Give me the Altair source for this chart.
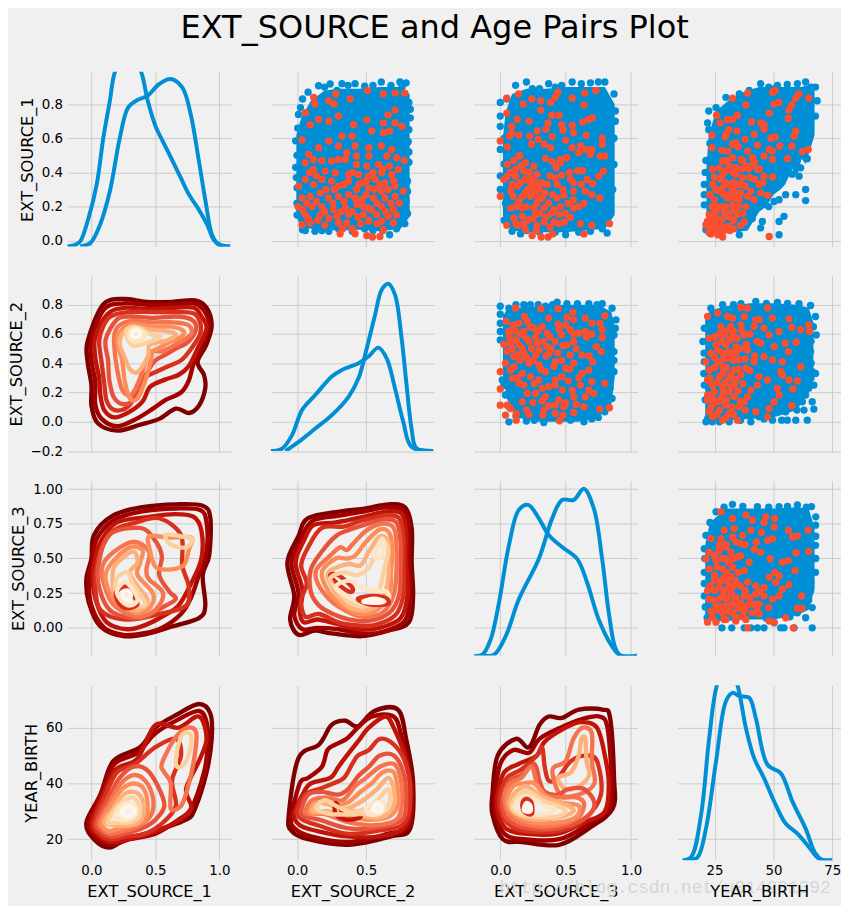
import altair as alt
import pandas as pd

BG = "#f0f0f0"
BLUE = "#008fd5"
RED = "#fc4f30"
GRID = "#cbcbcb"
LEVELS = ['#7f0000', '#a30000', '#c11409', '#d7301f', '#e7533a', '#f5744f',
          '#fc8d59', '#fdb07a', '#fdd0a0', '#fee5c3', '#fff5e8']
NAMES = ["EXT_SOURCE_1", "EXT_SOURCE_2", "EXT_SOURCE_3", "YEAR_BIRTH"]
TITLE = "EXT_SOURCE and Age Pairs Plot"
WATERMARK = "http://blog.csdn.net/u014281392"

X_DOMAINS = [(-0.188, 1.09), (-0.19, 0.993), (-0.2, 1.05), (9.2, 78.7)]
Y_DOMAINS = [(-0.034, 0.99), (-0.2, 0.995), (-0.2, 1.06), (12.5, 75.2)]
X_TICKS = [[0, 0.5, 1], [0, 0.5], [0, 0.5, 1], [25, 50, 75]]
Y_TICKS = [[0, .2, .4, .6, .8], [-.2, 0, .2, .4, .6, .8], [0, .25, .5, .75, 1], [20, 40, 60]]
Y_FORMATS = [".1f", ".1f", ".2f", "d"]
X_FORMATS = [".1f", ".1f", ".1f", "d"]

# ---- density curves on the diagonal (x, height in the row's y units)
KDE_11A = [(-.19,-.033),(-.126,-.024),(-.088,-.004),(-.023,.133),(.041,.33),(.093,.604),(.144,.82),(.183,.988),(.286,1.14),(.389,.988),(.44,.82),(.505,.663),(.557,.584),(.634,.467),(.698,.369),(.763,.27),(.84,.182),(.905,.094),(.956,.006),(1.008,-.024),(1.085,-.033)]
KDE_11B = [(-.088,-.033),(-.01,-.014),(.067,.094),(.144,.29),(.222,.604),(.286,.78),(.35,.82),(.44,.85),(.53,.918),(.62,.947),(.71,.898),(.776,.741),(.84,.467),(.892,.231),(.943,.035),(.995,-.024),(1.085,-.033)]
KDE_22A = [(-.084,-.2),(.012,-.137),(.132,-.046),(.252,.046),(.373,.171),(.445,.297),(.505,.503),(.565,.731),(.613,.903),(.661,.944),(.709,.869),(.757,.571),(.793,.251),(.829,-.046),(.865,-.183),(.986,-.2)]
KDE_22B = [(-.19,-.2),(-.108,-.183),(-.036,-.091),(.036,.08),(.132,.183),(.252,.309),(.325,.354),(.445,.4),(.517,.446),(.589,.507),(.649,.434),(.709,.229),(.769,0),(.829,-.171),(.986,-.2)]
KDE_33A = [(-.2,-.2),(-.137,-.194),(-.074,-.085),(-.01,.182),(.066,.594),(.142,.85),(.214,.886),(.295,.789),(.372,.667),(.473,.582),(.588,.497),(.664,.327),(.753,.061),(.855,-.133),(.919,-.2),(1.046,-.2)]
KDE_33B = [(-.125,-.2),(-.048,-.194),(.041,-.061),(.142,.206),(.295,.498),(.397,.789),(.473,.922),(.562,.922),(.639,1.002),(.715,.862),(.779,.498),(.83,.109),(.88,-.146),(.919,-.2),(1.046,-.2)]
KDE_44A = [(11.4,12.5),(15,13.6),(19.2,28.6),(22.7,56.3),(26,75.3),(30.5,84),(34.7,75.3),(38.3,59.9),(41.8,49.1),(46,41.9),(51,32.3),(55.2,25.6),(60.2,22),(65.1,17.2),(69.4,13),(75,12.5)]
KDE_44B = [(14.3,12.5),(17.8,13.6),(21.3,23.8),(25.6,47.9),(29.8,69.5),(32.6,72.5),(35.5,71.3),(39.7,70.7),(42.5,63.5),(47.5,46.7),(53.1,43.7),(58.1,33.5),(63.7,23.8),(67.9,14.8),(70.8,12.5),(75,12.5)]

# ---- dense blue regions of the scatters: x, top, bottom
CORE_12 = [(-.005,.62,.14),(.03,.72,.08),(.10,.82,.07),(.20,.88,.065),(.30,.89,.06),(.45,.89,.065),(.60,.90,.055),(.75,.90,.07),(.815,.86,.14)]
CORE_13 = [(.02,.6,.15),(.04,.75,.1),(.09,.86,.06),(.2,.89,.05),(.35,.89,.05),(.5,.9,.05),(.65,.9,.06),(.8,.9,.07),(.875,.8,.15)]
CORE_14 = [(21.5,.42,.06),(22.5,.62,.06),(25.6,.76,.05),(32.6,.84,.05),(39,.88,.06),(44,.9,.17),(47,.9,.2),(50,.91,.27),(53,.9,.3),(55,.9,.33),(58,.9,.42),(60,.9,.38),(62,.9,.48),(63.7,.91,.45),(66,.9,.55),(67.5,.88,.62)]
CORE_23 = [(.02,.72,.32),(.05,.77,.16),(.12,.78,.03),(.3,.79,.0),(.45,.8,.0),(.6,.8,.0),(.75,.8,.03),(.85,.75,.12),(.875,.65,.3)]
CORE_24 = [(21,.7,.03),(23,.76,.01),(30,.79,.01),(40,.81,.02),(50,.81,.03),(60,.8,.08),(65,.78,.2),(67,.68,.3)]
CORE_34 = [(21,.6,.08),(23,.76,.05),(30,.86,.05),(40,.86,.06),(50,.86,.06),(60,.87,.09),(65,.86,.13),(67.5,.72,.28)]

# ---- individually visible blue points
BLUE_12 = [(.04,.83),(.08,.87),(.156,.908),(.24,.918),(.325,.92),(.42,.92),(.49,.905),(.61,.93),(.745,.93),(.79,.925),(.81,.81),(.82,.72),(.805,.58),(.81,.46),(.80,.35),(.79,.23),(.78,.10),(.67,.035),(.49,.07),(.40,.055),(.23,.055),(.13,.055),(.04,.065),(0,.15),(0,.31),(-.01,.43),(-.01,.585),(.01,.74),(.025,.78),(.0,.22),(-.005,.37),(.0,.5),(.005,.66),(.06,.06),(.18,.06),(.3,.07),(.55,.06),(.62,.06),(.72,.07),(.8,.16),(.8,.29),(.81,.52),(.81,.65),(.82,.77),(.2,.9),(.29,.88),(.37,.91),(.55,.91),(.68,.91),(.76,.9)]
BLUE_13 = [(0,.81),(0,.73),(0,.67),(0,.535),(0,.38),(0,.30),(.04,.22),(.03,.12),(.09,.055),(.155,.04),(.5,.035),(.69,.055),(.817,.045),(.83,.15),(.84,.18),(.87,.447),(.88,.76),(.87,.86),(.80,.93),(.75,.93),(.69,.925),(.55,.93),(.47,.91),(.37,.92),(.245,.89),(.2,.93),(.117,.91),(.05,.83),(.03,.6),(.03,.45),(.86,.3),(.87,.6),(.88,.7),(.84,.24),(.62,.92),(.3,.89),(.42,.9),(.78,.07),(.6,.05),(.3,.05),(.2,.06),(.42,.05)]
BLUE_14 = [(22.5,.76),(22,.69),(22.5,.65),(25.6,.78),(29.8,.84),(35.5,.86),(39.7,.88),(44.6,.92),(51.7,.91),(55.9,.915),(60.2,.92),(63.7,.93),(67.9,.9),(68.6,.82),(67.9,.73),(65.8,.66),(64.8,.6),(63.7,.54),(64.4,.48),(61.6,.427),(21.3,.47),(20.6,.33),(20.6,.21),(21.3,.065),(29.1,.065),(35.5,.035),(44.6,.075),(60.2,.427),(60.9,.378),(63.7,.30),(63.7,.235),(59.5,.27),(55.2,.27),(52.4,.24),(50.3,.23),(45.3,.113),(54.5,.143),(52.4,.113),(52.4,.035),(20.6,.27),(21,.4),(23,.57),(42,.3),(47,.27),(41,.13),(38,.08),(48,.2),(58,.39),(66,.9),(48,.9)]
BLUE_23 = [(0,.79),(0,.735),(0,.674),(0,.617),(0,.56),(.066,.777),(.12,.80),(.23,.80),(.346,.79),(.435,.818),(.51,.807),(.59,.807),(.677,.807),(.78,.807),(.855,.777),(.885,.697),(.87,.594),(.87,.48),(.87,.343),(.84,.23),(.855,.16),(.80,.069),(.64,0),(.537,.011),(.333,-.005),(.2,.005),(.066,0),(.04,.183),(.028,.25),(.015,.286),(.18,.8),(.29,.8),(.4,.8),(.74,.8),(.88,.64),(.87,.42),(.75,.03),(.7,.02),(.45,.01),(.26,.01),(.12,.04),(.07,.1)]
BLUE_24 = [(20.6,.64),(20,.549),(20.6,.411),(20.6,.251),(21.3,0),(23.4,.777),(28.4,.8),(36.2,.807),(42.5,.823),(51.7,.816),(60.9,.807),(65.8,.795),(67.9,.72),(68.2,.594),(65.8,.48),(66.5,.343),(67.9,.331),(67.2,.251),(67.2,.087),(66.5,.137),(64.4,.011),(63,.08),(59.5,.011),(55.9,.011),(53.5,.011),(55.2,.069),(49.6,.011),(43.9,.034),(40.4,0),(31.2,0),(27,0),(63.7,.183),(62.3,.137),(20.4,.33),(20.5,.47),(21,.15),(22,.02),(47,.81),(56,.81),(33,.8),(67,.65),(66,.55),(66,.4),(66,.3),(65,.23),(60,.08),(24,0),(36,.01),(46,.02)]
BLUE_34 = [(21.3,.667),(20.6,.57),(20.6,.40),(20.6,.23),(21.8,.073),(25.6,.837),(32.6,.89),(43.2,.874),(52.4,.874),(60.2,.886),(66.2,.874),(67.9,.74),(67.9,.595),(67.9,.40),(65.8,.267),(66.5,.146),(63.7,.073),(60.2,.109),(66.5,0),(58.8,0),(54.5,0),(53.1,0),(46,0),(43.2,0),(40.4,0),(37.6,0),(32.3,0),(28.1,0),(50.3,.036),(20.8,.5),(20.6,.32),(21,.15),(23,.76),(29,.87),(37,.875),(48,.87),(56,.875),(64,.87),(68,.8),(68,.66),(68,.5),(66,.33),(65,.2),(57,.08),(47,.07)]

# ---- orange-red points
RED_12 = [(.12,.84),(.13,.80),(.23,.82),(.28,.86),(.27,.80),(.385,.83),(.51,.88),(.625,.86),(.71,.865),(.78,.865),(.71,.765),(.66,.737),(.505,.708),(.41,.68),(.30,.73),(.23,.70),(.156,.71),(.06,.75),(.096,.68),(.625,.69),(.71,.69),(.76,.67),(.54,.643),(.625,.633),(.67,.643),(.325,.613),(.40,.613),(.036,.59),(.23,.584),(.30,.555),(.42,.555),(.52,.545),(.61,.555),(.685,.535),(.156,.545),(.084,.506),(.36,.516),(.43,.496),(.52,.496),(.65,.496),(.72,.486),(.776,.47),(.06,.457),(.12,.476),(.18,.47),(.25,.467),(.30,.476),(.35,.476),(.43,.447),(.505,.437),(.59,.447),(.67,.437),(.12,.418),(.204,.408),(.276,.398),(.373,.388),(.445,.388),(.517,.378),(.613,.398),(.685,.388),(.733,.418),(.06,.359),(.18,.359),(.25,.349),(.373,.349),(.47,.339),(.565,.359),(.637,.339),(.71,.32),(.012,.32),(.12,.329),(.30,.32),(.43,.30),(.517,.31),(.613,.29),(.77,.29),(.036,.251),(.096,.26),(.168,.28),(.228,.251),(.30,.26),(.373,.27),(.47,.24),(.553,.25),(.637,.25),(.71,.26),(.007,.2),(.108,.2),(.18,.2),(.264,.182),(.35,.192),(.433,.212),(.517,.192),(.613,.2),(.697,.182),(.06,.153),(.168,.149),(.288,.143),(.373,.153),(.48,.153),(.577,.153),(.66,.143),(.036,.094),(.096,.104),(.30,.104),(.36,.104),(.517,.114),(.613,.114),(.697,.104),(.312,.041),(.42,.041),(.505,.03),(.546,.022),(.60,.025),(.625,.065),
 (.07,.22),(.14,.23),(.2,.17),(.23,.13),(.26,.22),(.32,.17),(.34,.23),(.4,.17),(.42,.25),(.44,.14),(.48,.2),(.5,.27),(.52,.12),(.54,.18),(.56,.3),(.58,.22),(.6,.33),(.64,.17),(.66,.3),(.68,.22),(.72,.15),(.74,.22),(.58,.1),(.46,.1),(.4,.07),(.33,.07),(.2,.09),(.15,.12),(.08,.13),(.04,.18),(.5,.35),(.55,.4),(.62,.42),(.7,.35),(.45,.33),(.4,.4),(.34,.33),(.27,.3),(.21,.3),(.14,.38),(.09,.4)]
RED_13 = [(.05,.835),(.14,.86),(.175,.80),(.24,.83),(.31,.82),(.385,.81),(.42,.84),(.44,.87),(.55,.835),(.645,.865),(.73,.88),(.64,.795),(.05,.747),(.13,.71),(.31,.765),(.395,.735),(.45,.735),(.087,.67),(.22,.70),(.365,.69),(.47,.68),(.55,.675),(.63,.695),(.675,.71),(.705,.72),(.087,.63),(.143,.62),(.225,.613),(.283,.643),(.35,.653),(.48,.647),(.56,.633),(.656,.618),(0,.584),(.07,.613),(.29,.594),(.398,.61),(.5,.588),(.78,.6),(.054,.55),(.24,.565),(.335,.565),(.385,.545),(.55,.545),(.613,.555),(.65,.535),(.70,.535),(.78,.565),(.766,.496),(.80,.496),(.60,.516),(.69,.506),(.346,.482),(.40,.463),(.46,.476),(.51,.486),(.054,.447),(.104,.47),(.143,.496),(.193,.457),(.46,.457),(.117,.418),(.18,.408),(.257,.437),(.427,.427),(.59,.41),(.63,.41),(.79,.408),(.753,.378),(.054,.378),(.117,.378),(.28,.388),(.42,.368),(.47,.384),(.537,.359),(.664,.359),(.028,.359),(.22,.35),(.36,.33),(.435,.33),(.56,.339),(.707,.335),(.13,.32),(.245,.32),(.295,.31),(.08,.29),(.193,.28),(.27,.27),(.435,.25),(.487,.267),(.56,.29),(.65,.29),(.70,.27),(0,.26),(.143,.23),(.295,.24),(.56,.24),(.76,.25),(.08,.192),(.168,.192),(.257,.192),(.335,.192),(.41,.182),(.56,.192),(.64,.218),(.45,.153),(.27,.153),(.537,.137),(.168,.143),(.104,.133),(.22,.123),(.335,.11),(.41,.11),(.613,.10),(.70,.09),(.835,.10),(.05,.09),(.137,.09),(.193,.065),(.277,.06),(.244,.03),(.313,.022),(.366,.022),(.40,.04),(.64,.04),(.453,.10),
 (.08,.4),(.09,.33),(.1,.26),(.12,.2),(.15,.34),(.16,.44),(.17,.26),(.19,.36),(.2,.2),(.21,.3),(.22,.4),(.23,.26),(.24,.36),(.25,.13),(.26,.3),(.27,.34),(.28,.22),(.3,.16),(.3,.3),(.32,.34),(.32,.25),(.34,.28),(.35,.14),(.37,.22),(.38,.38),(.39,.16),(.4,.27),(.46,.2),(.48,.3),(.5,.16),(.52,.22),(.53,.4),(.6,.2),(.62,.33),(.12,.1),(.18,.1),(.28,.09),(.38,.08),(.49,.11),(.15,.5)]
RED_14 = [(32.6,.835),(39,.865),(49.6,.87),(50.7,.88),(60.9,.86),(59.5,.835),(65,.835),(50.3,.80),(52.4,.81),(38.3,.795),(57.8,.795),(56.6,.765),(48.2,.747),(25.8,.735),(34.7,.735),(30.5,.71),(32.6,.71),(27.3,.69),(56.3,.716),(40.7,.696),(44.6,.69),(46,.68),(31,.65),(34.5,.643),(29.8,.623),(41.8,.623),(46,.653),(59.5,.643),(23.9,.618),(29.5,.608),(37.9,.594),(48.9,.6),(50.7,.608),(58.8,.613),(62.3,.522),(64.8,.535),(23.9,.545),(32.6,.565),(34,.575),(43.2,.56),(48.2,.535),(52.7,.555),(57.8,.555),(30.5,.525),(39,.525),(49.6,.525),(28.4,.467),(32.6,.486),(36.2,.476),(41.1,.486),(46,.496),(49.6,.476),(56,.482),(27,.427),(31.2,.437),(38.3,.437),(43.2,.418),(24.9,.373),(28.4,.388),(34,.388),(46,.378),(49.6,.373),(24.2,.33),(29.8,.339),(36.2,.33),(43.9,.33),(27,.29),(32.6,.3),(40.4,.29),(44.6,.28),(47.5,.267),(24.9,.24),(30.5,.25),(35.5,.24),(41.8,.24),(28,.2),(32.6,.21),(38.3,.2),(22.7,.153),(25.6,.173),(31.2,.163),(34.7,.153),(22,.114),(24.9,.104),(28.1,.123),(31.2,.084),(37.6,.11),(23.4,.04),(26.3,.035),(28.4,.022),(31.5,.06),(48.2,.025),(21.3,.094),(24.2,.075),(29.1,.163),(31.2,.27),(28.4,.31),(34.7,.28),(36.9,.37),
 (24,.42),(25.5,.3),(26,.2),(26,.13),(27.5,.36),(29,.27),(29.5,.2),(30,.41),(30.2,.33),(31,.14),(33,.4),(33,.34),(33.5,.25),(33.5,.18),(33,.12),(35,.33),(35,.2),(36,.28),(36.5,.42),(37,.16),(38,.32),(39,.26),(39.5,.42),(40,.37),(41,.44),(42,.36),(44,.42),(45.5,.34),(27,.09),(29,.06),(25,.07),(23,.08),(24,.14),(24,.2),(23,.27),(30,.08),(33,.07),(36,.09),(22.5,.05),(27.5,.05),(42,.46),(37,.47),(30,.47),(34,.43),(28,.53),(35,.55)]
RED_23 = [(0,.343),(0,.224),(0,.114),(.053,.114),(.079,.091),(.04,.046),(.122,.011),(.122,.057),(.046,.686),(.117,.777),(.31,.773),(.443,.773),(.555,.75),(.51,.715),(.80,.725),(.186,.72),(.206,.686),(.143,.674),(.37,.709),(.443,.667),(.562,.697),(.65,.709),(.70,.674),(.763,.674),(.066,.617),(.117,.617),(.18,.617),(.257,.64),(.32,.651),(.358,.606),(.47,.594),(.534,.629),(.6,.606),(.65,.617),(.78,.629),(.78,.576),(.028,.53),(.079,.537),(.143,.526),(.22,.549),(.283,.537),(.358,.514),(.42,.549),(.51,.526),(.562,.549),(.733,.514),(.773,.48),(.053,.48),(.104,.446),(.18,.469),(.272,.457),(.374,.469),(.534,.457),(.626,.457),(.04,.4),(.104,.377),(.22,.4),(.295,.389),(.42,.411),(.562,.4),(.707,.411),(.079,.354),(.168,.331),(.346,.343),(.50,.366),(.626,.331),(.677,.354),(.092,.297),(.143,.263),(.232,.309),(.295,.286),(.42,.286),(.47,.309),(.70,.274),(.80,.263),(.613,.251),(.42,.251),(.32,.229),(.206,.194),(.27,.194),(.475,.217),(.55,.217),(.677,.217),(.715,.194),(.346,.171),(.448,.149),(.562,.171),(.65,.171),(.168,.137),(.32,.142),(.42,.114),(.64,.103),(.2,.08),(.333,.08),(.486,.103),(.76,.087),(.835,.096),(.42,.057),(.562,.064),(.48,.046),(.326,.046),(.22,.05),(.453,.007),
 (.07,.58),(.1,.66),(.09,.5),(.12,.56),(.13,.46),(.15,.42),(.16,.6),(.17,.5),(.2,.57),(.2,.44),(.23,.65),(.24,.5),(.25,.42),(.27,.58),(.29,.62),(.3,.49),(.31,.36),(.33,.55),(.35,.45),(.38,.58),(.39,.5),(.41,.38),(.44,.47),(.45,.63),(.47,.42),(.48,.52),(.5,.66),(.53,.36),(.56,.6),(.58,.5),(.6,.3),(.66,.58),(.68,.45),(.7,.6),(.13,.3),(.18,.25),(.26,.26),(.37,.24),(.52,.28),(.58,.12),(.25,.13),(.37,.11),(.5,.13)]
RED_24 = [(22,.72),(26.3,.743),(30.5,.72),(36.2,.782),(39,.777),(47.5,.777),(32.6,.709),(37.6,.72),(42.5,.697),(49.6,.709),(56.6,.704),(27.7,.651),(31.9,.651),(36.2,.663),(41.8,.651),(46,.64),(57.8,.645),(61.6,.629),(65,.663),(65.3,.617),(29.1,.594),(32.6,.583),(37.6,.594),(48.2,.594),(52.4,.617),(22.7,.571),(25.6,.526),(29.8,.526),(34,.514),(44.6,.537),(55,.537),(59.7,.544),(50.3,.514),(23.4,.469),(28.4,.469),(32.6,.469),(39,.491),(56.4,.48),(21.3,.411),(26.3,.411),(31.2,.434),(35.5,.423),(41.8,.411),(46,.446),(22.7,.354),(28.4,.377),(33.3,.354),(38.3,.366),(49.6,.423),(53.8,.411),(61.6,.377),(22,.286),(27,.309),(31.2,.297),(36.2,.32),(43.9,.309),(53.1,.343),(53.8,.32),(56.6,.286),(60.2,.279),(22,.183),(28.4,.24),(33.3,.251),(40.4,.217),(43.2,.251),(47.5,.286),(24.9,.206),(31.2,.206),(51.7,.229),(58.3,.224),(52.4,.183),(22,.149),(27.7,.16),(33.3,.171),(37.6,.137),(48.2,.091),(50.3,.137),(57.8,.11),(22.7,.069),(27,.08),(31.2,.057),(42.5,.069),(47.5,.034),(24.1,.034),(28.4,.011),(34.7,.011),(35.5,.103),(29.8,.114),
 (23,.3),(24,.25),(25,.37),(25,.44),(25,.58),(26,.27),(26.5,.49),(27,.14),(27,.6),(28,.55),(28.5,.2),(28.5,.33),(29,.43),(29.5,.27),(30,.37),(30,.62),(30,.15),(31,.48),(31.5,.56),(32,.32),(32,.24),(32.5,.1),(33,.42),(33,.62),(34,.29),(34,.47),(34.5,.57),(35,.21),(35,.36),(36,.14),(36,.5),(36.5,.62),(37,.26),(38,.43),(38.5,.53),(39,.17),(40,.35),(40,.6),(23.5,.1),(25,.13),(26,.05),(30,.03),(33,.05),(38,.08),(24,.16),(42,.45),(43,.55),(44,.7)]
RED_34 = [(27.7,.837),(32.6,.789),(38.3,.813),(41.1,.777),(46,.76),(46.7,.80),(50.5,.789),(50.3,.728),(29.1,.704),(33.3,.716),(40.4,.704),(44.9,.687),(56.4,.704),(64.8,.704),(23.5,.643),(27.7,.643),(32.6,.655),(36.9,.667),(47.5,.631),(58.1,.655),(60.2,.663),(29.8,.583),(36.2,.607),(42.7,.619),(49.6,.643),(22.7,.546),(26.9,.558),(31.9,.546),(41.8,.566),(44.6,.546),(59.7,.541),(65,.551),(25.6,.485),(29.8,.498),(34.7,.51),(39.7,.473),(48.6,.498),(53.8,.473),(56.4,.485),(22.7,.425),(28.4,.425),(32.6,.437),(37.6,.413),(21.3,.498),(59.2,.413),(50.6,.40),(24.9,.34),(29.1,.364),(34,.34),(48.2,.364),(52.4,.376),(22,.267),(27,.291),(31.2,.291),(42.5,.303),(46,.291),(51,.328),(56.6,.311),(53.8,.279),(22.7,.206),(28.4,.23),(33.3,.218),(37.6,.23),(42.5,.243),(46,.23),(52.4,.23),(62,.23),(25.6,.158),(29.8,.158),(34.7,.17),(39.7,.17),(43.9,.17),(49.6,.206),(47.9,.146),(60.2,.141),(62,.141),(23.5,.121),(28.4,.109),(32.6,.109),(37.6,.121),(43.2,.121),(22,.041),(25.6,.041),(29.8,.061),(34,.049),(38.3,.061),(48.2,.049),(50.3,.041),(55.2,.073),(39,0),(58.5,0),
 (23,.3),(24,.2),(24,.08),(25,.27),(25,.38),(25,.52),(26,.13),(26,.44),(27,.21),(27,.6),(27.5,.34),(28,.5),(28,.15),(29,.27),(29,.06),(30,.4),(30,.21),(30.5,.33),(31,.12),(31,.47),(32,.25),(32,.37),(32.5,.17),(33,.3),(33,.5),(34,.08),(34,.22),(35,.14),(35,.4),(36,.3),(36,.18),(36,.52),(37,.08),(38,.27),(38,.15),(39,.33),(40,.22),(41,.11),(42,.17),(44,.26),(44,.1),(30,.6),(34,.62),(38,.6)]

# ---- density contours: (level 0 = outermost, ring); x and y in hundredths (ages as years for YEAR_BIRTH y)
C_21 = [
 (0,[(9,80),(25,84),(43,82),(63,82),(81,83),(90,78),(94,66),(90,53),(83,41),(88,32),(89,23),(84,11),(76,6),(66,9),(53,2),(38,-2),(20,-6),(5,-1),(0,11),(0,25),(-3,41),(-3,55)]),
 (1,[(10,77),(25,81),(45,80),(65,80),(80,81),(88,76),(92,66),(87,52),(80,40),(76,28),(70,20),(58,15),(48,9),(35,2),(20,-3),(8,2),(3,12),(3,27),(0,42),(0,56)]),
 (2,[(13,74),(27,78),(45,77),(65,78),(80,78),(86,72),(90,64),(83,50),(76,38),(68,32),(58,29),(46,24),(40,14),(30,7),(18,3),(10,8),(7,18),(6,30),(3,44),(3,58)]),
 (3,[(15,72),(28,75),(48,75),(68,75),(80,74),(85,68),(85,60),(78,50),(70,42),(60,38),(50,34),(42,30),(36,20),(28,10),(18,8),(12,14),(10,26),(8,40),(6,55),(9,65)]),
 (4,[(20,70),(30,72),(48,71),(66,72),(78,70),(82,64),(76,55),(66,50),(58,46),(50,42),(45,36),(40,28),(34,16),(26,12),(18,16),(14,28),(13,42),(11,56)]),
 (5,[(22,66),(32,69),(48,68),(64,68),(76,66),(78,60),(68,54),(60,50),(54,48),(47,48),(42,40),(38,30),(34,22),(30,18),(24,22),(20,36),(18,50),(18,60)]),
 (6,[(25,64),(33,67),(48,65),(62,65),(72,62),(70,58),(60,54),(52,50),(48,48),(46,40),(42,28),(36,16),(30,16),(26,28),(24,42),(20,56)]),
 (7,[(26,62),(34,65),(46,63),(58,62),(66,60),(60,56),(50,54),(45,52),(44,44),(36,34),(30,36),(26,44),(22,54)]),
 (8,[(27,62),(33,65),(40,63),(46,60),(54,58),(46,55),(40,53),(34,52),(30,54)]),
 (9,[(30,61),(34,64),(39,62),(42,60),(39,56),(34,55),(30,57)]),
 (10,[(32,60),(34,63),(37,62),(38,60),(36,58),(33,58)]),
]
C_31 = [
 (0,[(2,67),(17,81),(40,87),(66,89),(87,88),(93,79),(92,52),(87,38),(89,16),(84,7),(63,1),(45,-4),(25,-6),(7,1),(-2,18),(-4,35),(0,50)]),
 (1,[(4,64),(18,78),(40,84),(66,86),(85,85),(90,76),(90,55),(84,38),(78,22),(70,10),(55,0),(40,-4),(25,-5),(10,0),(0,16),(-2,35),(1,50)]),
 (2,[(7,62),(20,76),(45,80),(65,82),(80,80),(86,70),(86,50),(78,32),(68,16),(55,8),(42,2),(28,-1),(12,4),(4,18),(1,35),(3,50)]),
 (3,[(7,55),(17,70),(35,76),(53,79),(70,67),(71,45),(76,30),(74,16),(53,10),(27,6),(7,13),(3,33)]),
 (4,[(5,42),(14,67),(38,72),(49,64),(55,52),(53,38),(61,26),(66,21),(58,16),(38,7),(17,11),(8,23)]),
 (5,[(8,42),(14,52),(32,62),(45,55),(43,42),(45,35),(56,25),(50,13),(35,8),(18,16),(11,28)]),
 (6,[(11,38),(16,47),(30,58),(40,56),(38,47),(36,38),(48,25),(46,15),(36,11),(22,16),(14,26)]),
 (6,[(45,66),(60,65),(78,65),(76,56),(72,45),(60,42),(50,44),(46,55)]),
 (7,[(17,42),(24,50),(33,55),(36,47),(30,40),(36,30),(44,20),(38,13),(26,15),(18,24)]),
 (8,[(20,36),(28,40),(32,32),(38,24),(42,17),(34,15),(24,18),(19,26)]),
 (8,[(58,67),(70,66),(79,64),(74,58),(62,60)]),
 (3,[(19,25),(26,30),(32,24),(36,17),(28,14),(22,17)]),
 (9,[(20,27),(26,33),(32,28),(36,20),(30,16),(23,20)]),
 (10,[(24,24),(28,27),(31,23),(27,20)]),
]
C_41 = [
 (0,[(-4,26),(7,36),(17,48),(38,53),(50,60),(68,65),(84,68.5),(93,65),(94,56),(90,44),(81,31),(74,27),(50,23),(27,20),(14,17),(2,20)]),
 (1,[(-2,26),(8,37),(18,47),(36,51),(50,58),(68,63),(84,66),(90,62),(91,54),(88,44),(78,31),(68,27),(50,22),(30,20),(15,18),(3,21)]),
 (2,[(0,26),(9,36),(19,45),(36,49),(50,61),(68,60),(84,64),(90,56),(84,48),(74,38),(78,31),(66,26),(45,22),(28,20),(15,19),(4,22)]),
 (3,[(2,26),(10,35),(20,44),(34,47),(50,53),(66,56),(70,50),(63,41),(66,32),(56,26),(42,22),(28,21),(15,20),(6,22)]),
 (4,[(4,26),(12,34),(22,42),(33,46),(43,45),(52,39),(57,32),(50,27),(40,24),(26,22),(15,21),(7,23)]),
 (5,[(55,47),(65,56),(75,60),(82,58),(80,48),(75,38),(70,32),(62,31),(62,40),(57,44)]),
 (5,[(6,26),(14,33),(23,40),(33,43),(42,41),(48,35),(47,29),(38,25),(26,23),(14,22),(8,24)]),
 (6,[(8,26),(15,32),(24,38),(33,40),(41,38),(44,32),(42,27),(33,25),(23,24),(13,23)]),
 (7,[(10,26),(17,31),(25,36),(33,37),(39,35),(41,30),(37,26),(28,25),(18,25)]),
 (8,[(13,26),(19,31),(26,34),(33,35),(37,32),(37,28),(30,26),(20,26)]),
 (8,[(68,54),(72,58),(78,57),(76,50),(70,46),(66,47)]),
 (9,[(18,28),(23,32),(29,33),(34,32),(35,29),(29,27),(22,27)]),
 (10,[(24,30),(28,32),(33,31),(33,29),(28,28)]),
]
C_32 = [
 (0,[(-7,47),(1,66),(8,79),(32,84),(49,86),(66,89),(78,87),(83,72),(83,47),(84,23),(81,4),(66,-2),(47,-6),(25,-4),(13,-2),(1,-5),(-5,6),(-2,23)]),
 (1,[(-4,47),(3,64),(11,77),(32,81),(49,84),(66,87),(78,84),(81,70),(81,47),(82,23),(78,5),(62,-3),(47,-4),(30,-1),(15,0),(4,-1),(-2,9),(1,25)]),
 (2,[(-1,47),(5,63),(12,74),(28,76),(48,80),(65,84),(76,82),(79,68),(79,47),(80,24),(75,7),(60,0),(45,-1),(28,3),(15,6),(5,4),(2,12),(4,27)]),
 (3,[(3,45),(8,58),(18,72),(34,73),(46,77),(64,81),(74,79),(77,66),(77,46),(77,24),(71,9),(56,2),(42,2),(30,4),(16,10),(6,8),(3,20),(7,32)]),
 (4,[(10,42),(18,55),(28,66),(36,70),(48,74),(62,78),(72,76),(75,62),(75,44),(74,24),(67,11),(52,5),(38,6),(26,10),(16,16),(10,26)]),
 (5,[(14,42),(24,52),(31,58),(36,56),(40,60),(50,70),(61,75),(70,72),(72,58),(72,42),(70,24),(62,11),(48,8),(36,12),(24,20),(15,32)]),
 (6,[(18,40),(28,50),(36,50),(42,52),(50,62),(60,71),(67,68),(69,54),(68,40),(67,24),(58,13),(45,10),(33,16),(23,26)]),
 (7,[(22,38),(30,44),(38,46),(46,45),(52,55),(60,66),(66,62),(66,50),(66,36),(62,20),(52,13),(40,14),(30,22)]),
 (3,[(24,38),(30,38),(40,29),(38,26),(28,33)]),
 (8,[(24,35),(34,40),(44,38),(53,45),(58,58),(63,63),(66,55),(63,42),(60,28),(56,18),(44,16),(34,22)]),
 (9,[(28,30),(38,34),(47,29),(56,27),(65,26),(66,20),(56,17),(44,19),(34,24)]),
 (9,[(56,52),(60,62),(62,64),(63,58),(60,50)]),
 (3,[(44,21),(55,23),(65,21),(65,17),(52,17)]),
 (10,[(48,19),(56,21),(63,19),(55,18)]),
]
C_42 = [
 (0,[(-6,28.6),(1,49),(16,54),(25,61),(35,62.5),(44,60.5),(56,66),(73,66.5),(79,56),(84,40.5),(82,24),(68,21),(37,18),(8,20),(-4,23)]),
 (1,[(-4,28),(2,40),(8,42),(18,46),(22,52),(28,54),(36,56),(44,60),(54,64),(70,64),(76,56),(83,40),(81,25),(66,22),(37,19),(10,21),(-2,24)]),
 (2,[(-2,29),(4,36),(10,40),(24,42),(30,46),(36,50),(44,55),(52,60),(64,64),(70,60),(78,50),(82,38),(79,25),(60,21),(36,21),(14,23),(2,25)]),
 (3,[(0,30),(6,36),(16,38),(26,40),(34,42),(40,47),(44,50),(52,52),(60,56),(70,54),(78,48),(82,38),(78,26),(58,23),(36,22),(15,25),(4,27)]),
 (4,[(3,30),(8,36),(18,37),(30,36),(37,38),(45,43),(52,46),(60,50),(70,50),(77,44),(79,35),(76,27),(56,24),(36,24),(16,27),(6,28)]),
 (5,[(6,30),(11,34),(22,35),(33,34),(42,39),(50,42),(60,46),(70,47),(75,42),(76,33),(72,27),(56,25),(38,26),(20,29),(9,29)]),
 (6,[(9,30),(14,33),(24,33),(36,33),(46,37),(54,40),(62,44),(70,44),(73,38),(73,32),(66,28),(52,27),(38,28),(22,30),(12,29)]),
 (7,[(11,30),(16,33),(26,32),(36,31),(48,34),(58,38),(66,42),(70,38),(70,32),(62,28),(50,28),(38,29),(22,30)]),
 (2,[(28,33),(28,29),(36,27),(46,28),(42,30),(33,30)]),
 (8,[(14,31),(20,34),(28,32),(38,30),(50,31),(58,34),(66,38),(67,33),(60,29),(50,29),(38,29),(24,29)]),
 (9,[(50,31),(56,33),(62,33),(63,31),(58,29),(52,29)]),
 (10,[(55,31),(58,33),(61,32),(61,30),(57,30)]),
]
C_43 = [
 (0,[(-6,36),(-2,50),(12,56),(22,53),(30,61),(37,64),(47,63.5),(60,66.5),(78,66.5),(84,63.5),(87,42),(86,31),(68,24),(45,18),(17,19),(2,20),(-6,29)]),
 (1,[(-4,36),(0,47),(10,52),(22,51),(30,56),(46,60),(62,63),(76,64),(82,60),(85,42),(83,31),(66,25),(45,20),(18,20),(3,22),(-4,30)]),
 (2,[(-2,36),(3,44),(14,47),(28,50),(34,55),(50,60),(62,62),(74,60),(80,50),(83,40),(80,30),(64,26),(44,22),(18,22),(4,24),(-2,30)]),
 (3,[(0,36),(5,42),(16,45),(28,50),(32,53),(34,46),(37,41),(44,42),(54,48),(65,50),(74,48),(77,36),(64,27),(45,23),(18,23),(5,26),(0,31)]),
 (5,[(40,45),(50,48),(56,56),(63,60),(70,58),(70,48),(72,40),(60,36),(46,36)]),
 (7,[(44,42),(54,44),(60,50),(62,56),(65,56),(66,48),(68,43),(60,39),(50,38)]),
 (4,[(2,35),(7,41),(16,43),(26,47),(30,41),(34,37),(44,36),(52,38),(64,38),(72,33),(66,28),(45,24),(20,24),(6,27),(2,31)]),
 (5,[(3,35),(8,40),(16,42),(24,46),(28,40),(34,36),(46,35),(58,35),(64,33),(60,28),(44,25),(22,25),(8,28)]),
 (6,[(5,34),(10,39),(18,40),(26,40),(36,35),(48,33),(60,32),(58,28),(44,26),(24,26),(10,29)]),
 (7,[(7,33),(12,37),(20,39),(30,36),(40,34),(52,32),(56,30),(46,28),(28,27),(13,29)]),
 (8,[(9,32),(14,36),(22,37),(32,34),(44,32),(50,30),(42,28),(28,28),(14,29)]),
 (9,[(11,32),(16,35),(24,35),(34,32),(42,31),(36,29),(24,29),(14,30)]),
 (3,[(17,33),(20,34.5),(24,33),(24,29),(18,30)]),
 (10,[(18,31),(20,33),(23,32),(23,30),(19,30)]),
]

PANEL_W = 165
PANEL_H = 176.5


def axes(r, c):
    xa = dict(grid=True, gridColor=GRID, gridWidth=1, ticks=False, domain=False,
              values=X_TICKS[c], format=X_FORMATS[c],
              labels=(r == 3), title=(NAMES[c] if r == 3 else None),
              labelFont="DejaVu Sans", labelFontSize=13.5, labelColor="#000000", labelPadding=4,
              labelOverlap=False, labelFlush=False,
              titleFont="DejaVu Sans", titleFontSize=16.4, titleFontWeight="normal", titleColor="#000000", titlePadding=6)
    ya = dict(grid=True, gridColor=GRID, gridWidth=1, ticks=False, domain=False,
              values=Y_TICKS[r], format=Y_FORMATS[r],
              labels=(c == 0), title=(NAMES[r] if c == 0 else None),
              labelFont="DejaVu Sans", labelFontSize=13.5, labelColor="#000000", labelPadding=5,
              labelOverlap=False, labelFlush=False,
              titleFont="DejaVu Sans", titleFontSize=16.4, titleFontWeight="normal", titleColor="#000000", titlePadding=6)
    x = alt.X("x:Q", scale=alt.Scale(domain=list(X_DOMAINS[c]), nice=False, zero=False), axis=alt.Axis(**xa))
    y = alt.Y("y:Q", scale=alt.Scale(domain=list(Y_DOMAINS[r]), nice=False, zero=False), axis=alt.Axis(**ya))
    return x, y


def kde_panel(r, c, curves):
    x, y = axes(r, c)
    layers = [alt.Chart(pd.DataFrame(cv, columns=["x", "y"])).mark_line(
        color=BLUE, strokeWidth=4, interpolate="catmull-rom", clip=True).encode(x=x, y=y) for cv in curves]
    return alt.layer(*layers).properties(width=PANEL_W, height=PANEL_H)


def scatter_panel(r, c, core, blue, red):
    x, y = axes(r, c)
    area = alt.Chart(pd.DataFrame(core, columns=["x", "y", "y2"])).mark_area(
        color=BLUE, interpolate="linear", opacity=1).encode(x=x, y=y, y2="y2:Q")
    b = alt.Chart(pd.DataFrame(blue, columns=["x", "y"])).mark_circle(
        color=BLUE, size=55, opacity=1).encode(x=x, y=y)
    o = alt.Chart(pd.DataFrame(red, columns=["x", "y"])).mark_circle(
        color=RED, size=55, opacity=1).encode(x=x, y=y)
    return alt.layer(area, b, o).properties(width=PANEL_W, height=PANEL_H)


def contour_panel(r, c, contours):
    x, y = axes(r, c)
    xdiv = 100
    ydiv = 1 if r == 3 else 100
    rows = []
    for g, (lev, pts) in enumerate(contours):
        for i, (px, py) in enumerate(pts):
            rows.append(dict(x=px / xdiv, y=py / ydiv, g=g, i=i, col=LEVELS[lev]))
    line = alt.Chart(pd.DataFrame(rows)).mark_line(
        strokeWidth=4.4, interpolate="cardinal-closed", clip=True).encode(
        x=x, y=y, detail="g:N", order="i:Q", color=alt.Color("col:N", scale=None))
    return alt.layer(line).properties(width=PANEL_W, height=PANEL_H)


wm = alt.Chart(pd.DataFrame({"t": [WATERMARK]})).mark_text(
    font="Liberation Mono", fontSize=18, color="#d6d6d6", align="right", baseline="alphabetic"
).encode(x=alt.value(360), y=alt.value(210), text="t:N")

panels = [
    kde_panel(0, 0, [KDE_11A, KDE_11B]),
    scatter_panel(0, 1, CORE_12, BLUE_12, RED_12),
    scatter_panel(0, 2, CORE_13, BLUE_13, RED_13),
    scatter_panel(0, 3, CORE_14, BLUE_14, RED_14),
    contour_panel(1, 0, C_21),
    kde_panel(1, 1, [KDE_22A, KDE_22B]),
    scatter_panel(1, 2, CORE_23, BLUE_23, RED_23),
    scatter_panel(1, 3, CORE_24, BLUE_24, RED_24),
    contour_panel(2, 0, C_31),
    contour_panel(2, 1, C_32),
    kde_panel(2, 2, [KDE_33A, KDE_33B]),
    scatter_panel(2, 3, CORE_34, BLUE_34, RED_34),
    contour_panel(3, 0, C_41),
    contour_panel(3, 1, C_42),
    alt.layer(contour_panel(3, 2, C_43), wm).properties(width=PANEL_W, height=PANEL_H),
    kde_panel(3, 3, [KDE_44A, KDE_44B]),
]

chart = alt.concat(*panels, columns=4, spacing={"row": 29.5, "column": 40.3}, bounds="flush").properties(
    title=alt.TitleParams(TITLE, font="DejaVu Sans", fontSize=32.3, fontWeight="normal", color="#000000",
                          anchor="start", dx=174, dy=-4, offset=23.5),
    background=BG,
    padding={"left": 0, "top": 0, "right": 0, "bottom": 4},
).configure_view(stroke=None)

chart.save("out.html", embed_options={"renderer": "svg", "actions": False})
